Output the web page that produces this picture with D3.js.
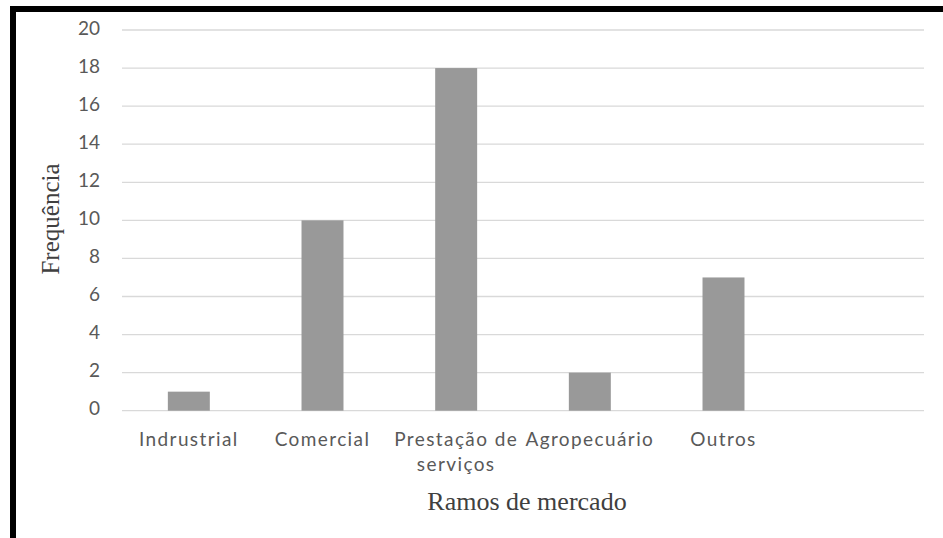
<!DOCTYPE html>
<html>
<head>
<meta charset="utf-8">
<script src="https://cdn.jsdelivr.net/npm/d3@7"></script>
<style>
  html, body { margin: 0; padding: 0; background: #fff; }
  svg { display: block; }
</style>
</head>
<body>
<svg id="chart" width="943" height="538"></svg>
<script>
// Market branches and their frequencies
const categories = ["Indrustrial", "Comercial", "Prestação de serviços", "Agropecuário", "Outros", ""];
const frequencies = [1, 10, 18, 2, 7, null];
const yTicks = [0, 2, 4, 6, 8, 10, 12, 14, 16, 18, 20];

const svg = d3.select("#chart");
const W = 943, H = 538;
const plot = { left: 122, right: 924, top: 30, bottom: 410.7 };
const labelFont = "Lato, 'Open Sans', sans-serif";
const titleFont = "'Liberation Serif', 'Times New Roman', serif";

// Frame: heavy black edge along the top and left
svg.append("rect").attr("x", 10).attr("y", 6).attr("width", W - 10).attr("height", 6).attr("fill", "#000");
svg.append("rect").attr("x", 10).attr("y", 6).attr("width", 6).attr("height", H - 6).attr("fill", "#000");

const x = d3.scaleBand().domain(categories).range([plot.left, plot.right]).paddingInner(0.686).paddingOuter(0.343);
const y = d3.scaleLinear().domain([0, 20]).range([plot.bottom, plot.top]);

// Horizontal gridlines
svg.append("g")
  .selectAll("line")
  .data(yTicks)
  .join("line")
  .attr("x1", plot.left).attr("x2", plot.right)
  .attr("y1", d => y(d)).attr("y2", d => y(d))
  .attr("stroke", "#d9d9d9").attr("stroke-width", 1.3);

// Y axis tick labels
const yAxis = d3.axisLeft(y).tickValues(yTicks).tickSize(0).tickPadding(0);
svg.append("g")
  .attr("transform", `translate(100,0)`)
  .call(yAxis)
  .call(g => g.select(".domain").remove())
  .selectAll("text")
  .attr("fill", "#595959")
  .attr("font-family", labelFont)
  .attr("font-size", 19)
  .attr("dy", "0.22em");

// Bars
svg.append("g")
  .selectAll("rect")
  .data(categories.map((c, i) => ({ c, v: frequencies[i] })).filter(d => d.v != null))
  .join("rect")
  .attr("x", d => x(d.c))
  .attr("width", x.bandwidth())
  .attr("y", d => y(d.v))
  .attr("height", d => y(0) - y(d.v))
  .attr("fill", "#999999");

// Category labels (wrapped to two lines where needed)
const xAxis = d3.axisBottom(x).tickSize(0).tickPadding(0);
const xg = svg.append("g")
  .attr("transform", `translate(0,${plot.bottom})`)
  .call(xAxis);
xg.select(".domain").remove();
xg.selectAll("text").each(function(d) {
  const t = d3.select(this);
  t.text(null)
    .attr("fill", "#595959")
    .attr("font-family", labelFont)
    .attr("font-size", 19)
    .attr("letter-spacing", 1.4)
    .attr("y", 0)
    .attr("dy", null);
  const lines = d === "Prestação de serviços" ? ["Prestação de", "serviços"] : [d];
  lines.forEach((ln, i) => {
    t.append("tspan").attr("x", 0).attr("y", 35 + i * 25).text(ln);
  });
});

// Axis titles
svg.append("text")
  .attr("x", 527).attr("y", 510)
  .attr("text-anchor", "middle")
  .attr("fill", "#404040")
  .attr("font-family", titleFont)
  .attr("font-size", 26)
  .text("Ramos de mercado");

svg.append("text")
  .attr("transform", `translate(59,219) rotate(-90)`)
  .attr("text-anchor", "middle")
  .attr("fill", "#404040")
  .attr("font-family", titleFont)
  .attr("font-size", 25)
  .text("Frequência");
</script>
</body>
</html>
